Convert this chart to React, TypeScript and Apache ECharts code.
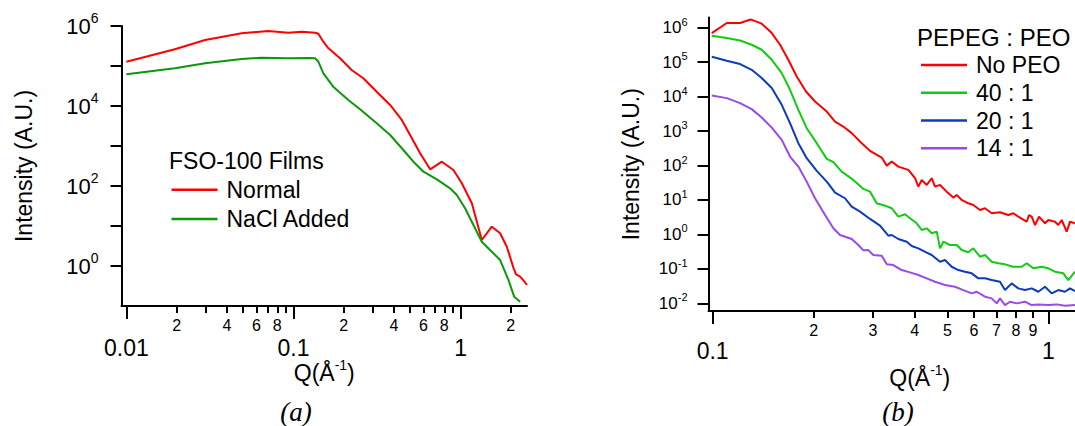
import React, { useEffect, useRef } from 'react';
import * as echarts from 'echarts';

const FONT = '"Liberation Sans", Arial, Helvetica, sans-serif';

// ---------- Panel (a): FSO-100 Films ----------
const NORMAL_Q = [0.01, 0.0195, 0.0296, 0.049, 0.0707, 0.0932, 0.112, 0.135, 0.141, 0.151, 0.162, 0.19, 0.223, 0.262, 0.315, 0.379, 0.445, 0.499, 0.573, 0.658, 0.773, 0.907, 1.018, 1.169, 1.341, 1.539, 1.726, 1.893, 2.074, 2.15, 2.275, 2.4, 2.5];
const NORMAL_I = [1.28e5, 2.62e5, 4.47e5, 6.57e5, 7.5e5, 6.8e5, 7.2e5, 6.8e5, 6.4e5, 4.05e5, 2.77e5, 1.56e5, 7.94e4, 4.93e4, 2.28e4, 1.06e4, 4.47e3, 1.88e3, 657, 261, 405, 251, 117, 36.9, 4.47, 9.6, 6.57, 3.04, 0.9, 0.62, 0.54, 0.42, 0.335];
const NACL_Q = [0.01, 0.0195, 0.0296, 0.049, 0.0643, 0.0932, 0.126, 0.1347, 0.141, 0.151, 0.173, 0.213, 0.2505, 0.315, 0.379, 0.455, 0.522, 0.6, 0.722, 0.866, 0.95, 1.065, 1.195, 1.341, 1.539, 1.726, 1.936, 2.094, 2.275];
const NACL_I = [6.2e4, 8.76e4, 1.17e5, 1.5e5, 1.61e5, 1.56e5, 1.58e5, 1.56e5, 1.28e5, 6.57e4, 3.04e4, 1.41e4, 8.27e3, 3.69e3, 1.88e3, 794, 405, 228, 147, 87.6, 59.6, 27.7, 10.6, 4.05, 2.28, 1.41, 0.447, 0.171, 0.128];

const A_X_MAJOR = [0.01, 0.1, 1];
const A_X_MAJOR_LABELS = ['0.01', '0.1', '1'];
const A_X_MINOR = [0.02, 0.03, 0.04, 0.05, 0.06, 0.07, 0.08, 0.09, 0.2, 0.3, 0.4, 0.5, 0.6, 0.7, 0.8, 0.9, 2];
const A_X_MINOR_LABELED = [0.02, 0.04, 0.06, 0.08, 0.2, 0.4, 0.6, 0.8, 2];
const A_Y_TICKS = [1, 10, 100, 1e3, 1e4, 1e5, 1e6];
const A_Y_LABELED = [1, 100, 1e4, 1e6];

// ---------- Panel (b): PEPEG : PEO ----------
const NOPEO_Q = [0.0994, 0.1102, 0.1207, 0.1298, 0.14, 0.15, 0.1588, 0.168, 0.178, 0.1897, 0.2018, 0.2187, 0.2315, 0.245, 0.2595, 0.278, 0.2943, 0.3188, 0.33, 0.3415, 0.3573, 0.3827, 0.4006, 0.4098, 0.4194, 0.4341, 0.4492, 0.4595, 0.4755, 0.4978, 0.5209, 0.5332, 0.5518, 0.5773, 0.5974, 0.6255, 0.6473, 0.6777, 0.7175, 0.7595, 0.786, 0.8134, 0.8616, 0.8754, 0.8917, 0.9127, 0.9376, 0.977, 0.9993, 1.0463, 1.0703, 1.0955, 1.1337, 1.1597, 1.2001];
const NOPEO_I = [7.0e5, 1.37e6, 1.37e6, 1.74e6, 1.31e6, 7.0e5, 3.2e5, 1.17e5, 3.84e4, 1.41e4, 7.2e3, 3.69e3, 1.89e3, 1.35e3, 869, 445, 266, 170, 99.3, 130, 92.9, 74.5, 42.7, 24.4, 38.1, 27.3, 42.7, 24.4, 27.3, 17.4, 11.7, 14.0, 10, 8.0, 7.16, 5.12, 5.74, 4.1, 4.39, 3.66, 4.1, 3.27, 2.34, 3.66, 3.27, 1.87, 3.27, 2.1, 2.62, 2.34, 1.87, 2.62, 1.2, 2.34, 2.1];
const R40_Q = [0.0994, 0.1102, 0.1207, 0.1307, 0.14, 0.15, 0.1606, 0.17, 0.18, 0.1906, 0.2042, 0.2187, 0.2288, 0.2423, 0.2624, 0.2811, 0.2943, 0.3081, 0.3262, 0.3415, 0.3573, 0.3741, 0.3871, 0.4053, 0.4194, 0.4341, 0.4492, 0.4649, 0.4755, 0.4864, 0.5092, 0.5332, 0.5518, 0.5773, 0.5974, 0.6255, 0.6473, 0.6777, 0.7092, 0.7425, 0.786, 0.8325, 0.8616, 0.9015, 0.9551, 0.9993, 1.0463, 1.1076, 1.1462, 1.2001];
const R40_I = [5.85e5, 5.02e5, 4.27e5, 3.2e5, 2.29e5, 1.17e5, 4.82e4, 1.58e4, 4.13e3, 1.21e3, 445, 156, 125, 66.5, 38.1, 20.9, 17.4, 8.0, 6.82, 5.74, 3.27, 3.84, 2.94, 2.1, 1.34, 1.5, 1.08, 1.2, 0.394, 0.614, 0.492, 0.492, 0.352, 0.302, 0.394, 0.225, 0.252, 0.161, 0.145, 0.135, 0.115, 0.115, 0.145, 0.1035, 0.115, 0.1035, 0.0824, 0.074, 0.0472, 0.0824];
const R20_Q = [0.0994, 0.1102, 0.1207, 0.1307, 0.14, 0.15, 0.1606, 0.17, 0.18, 0.1906, 0.2042, 0.2187, 0.2315, 0.2479, 0.2595, 0.2748, 0.2943, 0.3151, 0.3336, 0.3415, 0.3573, 0.3785, 0.3917, 0.4098, 0.4341, 0.4492, 0.4755, 0.4921, 0.5152, 0.5391, 0.5644, 0.5909, 0.6183, 0.6473, 0.6777, 0.7175, 0.7425, 0.7774, 0.8134, 0.8516, 0.8917, 0.9332, 0.977, 1.0229, 1.0703, 1.1206, 1.1597, 1.2001];
const R20_I = [1.44e5, 1.1e5, 8.81e4, 6.01e4, 3.45e4, 1.77e4, 5.78e3, 1.7e3, 445, 163, 69.7, 34.0, 16.3, 11.2, 6.38, 4.57, 2.81, 1.79, 0.916, 0.961, 0.735, 0.614, 0.46, 0.394, 0.294, 0.252, 0.161, 0.18, 0.115, 0.0923, 0.0824, 0.074, 0.053, 0.053, 0.0472, 0.0422, 0.0242, 0.0379, 0.0271, 0.0242, 0.0271, 0.0216, 0.0302, 0.0194, 0.0242, 0.0216, 0.0271, 0.0226];
const R14_Q = [0.0994, 0.1102, 0.1207, 0.1307, 0.14, 0.15, 0.1606, 0.17, 0.18, 0.1906, 0.2018, 0.2162, 0.2288, 0.2395, 0.2595, 0.2716, 0.2811, 0.2909, 0.301, 0.3188, 0.33, 0.3452, 0.3657, 0.3871, 0.4098, 0.4341, 0.4595, 0.4921, 0.527, 0.5579, 0.5909, 0.6116, 0.6473, 0.6777, 0.7014, 0.7175, 0.7425, 0.7684, 0.8045, 0.8516, 0.8917, 0.9332, 0.9993, 1.0586, 1.1206, 1.2001];
const R14_I = [1.08e4, 9.04e3, 6.47e3, 4.33e3, 2.47e3, 1.26e3, 555, 182, 92.9, 34.0, 11.2, 3.66, 1.5, 0.961, 0.735, 0.492, 0.345, 0.35, 0.252, 0.24, 0.135, 0.129, 0.0923, 0.079, 0.0661, 0.053, 0.0422, 0.0338, 0.0302, 0.0242, 0.0194, 0.0216, 0.0155, 0.0139, 0.00993, 0.0139, 0.00887, 0.0111, 0.00993, 0.0111, 0.00887, 0.00929, 0.00887, 0.00929, 0.00845, 0.00887];

const B_X_MAJOR = [0.1, 1];
const B_X_MAJOR_LABELS = ['0.1', '1'];
const B_X_MINOR = [0.2, 0.3, 0.4, 0.5, 0.6, 0.7, 0.8, 0.9];
const B_Y_TICKS = [1e-2, 1e-1, 1, 10, 100, 1e3, 1e4, 1e5, 1e6];

const LEGEND_A = ['Normal', 'NaCl Added'];
const LEGEND_B = ['No PEO', '40 : 1', '20 : 1', '14 : 1'];

const zip = (xs: number[], ys: number[]) => xs.map((x, i) => [x, ys[i]]);

const digitLabel = (v: number) => {
  const p = Math.pow(10, Math.floor(Math.log10(v) + 1e-9));
  return String(Math.round(v / p));
};
const majorLabel = (ticks: number[], labels: string[]) => (v: number) => {
  let best = 0;
  ticks.forEach((t, i) => {
    if (Math.abs(Math.log10(t) - Math.log10(v)) < Math.abs(Math.log10(ticks[best]) - Math.log10(v))) best = i;
  });
  return labels[best];
};
const powLabel = (v: number) => `{b|10}{s|${Math.round(Math.log10(v))}}`;

const AXIS_LINE = { show: true, lineStyle: { color: '#000', width: 2 } };

function xAxes(grid: number, min: number, max: number, major: number[], majorLabels: string[], minor: number[], minorLabeled: number[], majorMargin: number, nameGap: number, namePad: number) {
  return [
    {
      type: 'log', logBase: 10, gridIndex: grid, min, max, position: 'bottom',
      axisLine: AXIS_LINE,
      axisTick: { show: true, inside: false, length: 13, customValues: major, lineStyle: { color: '#000', width: 2 } },
      axisLabel: { show: true, customValues: major, formatter: majorLabel(major, majorLabels), fontSize: 23, color: '#000', fontFamily: FONT, margin: majorMargin },
      minorTick: { show: false }, splitLine: { show: false }, minorSplitLine: { show: false },
      name: '{b|Q(Å}{s|-1}{b|)}', nameLocation: 'middle', nameGap, nameMoveOverlap: false,
      nameTextStyle: {
        color: '#000', fontFamily: FONT, fontSize: 23, padding: [0, 0, 0, namePad],
        rich: {
          b: { fontSize: 23, lineHeight: 23, verticalAlign: 'bottom', fontFamily: FONT, color: '#000' },
          s: { fontSize: 14, lineHeight: 14, verticalAlign: 'bottom', padding: [0, 0, 12, 0], fontFamily: FONT, color: '#000' },
        },
      },
    },
    {
      type: 'log', logBase: 10, gridIndex: grid, min, max, position: 'bottom',
      axisLine: { show: false },
      axisTick: { show: true, inside: false, length: 7, customValues: minor, lineStyle: { color: '#000', width: 2 } },
      axisLabel: { show: true, customValues: minorLabeled, formatter: digitLabel, fontSize: 16, color: '#000', fontFamily: FONT, margin: 11 },
      minorTick: { show: false }, splitLine: { show: false }, minorSplitLine: { show: false },
    },
  ];
}

function yAxis(grid: number, min: number, max: number, ticks: number[], labeled: number[], bSize: number, sSize: number, margin: number, nameGap: number) {
  return {
    type: 'log', logBase: 10, gridIndex: grid, min, max, position: 'left',
    axisLine: AXIS_LINE,
    axisTick: { show: true, inside: false, length: 11, customValues: ticks, lineStyle: { color: '#000', width: 2 } },
    axisLabel: {
      show: true, customValues: labeled, formatter: powLabel, margin, color: '#000', fontFamily: FONT,
      rich: {
        b: { fontSize: bSize, lineHeight: bSize, verticalAlign: 'bottom', fontFamily: FONT, color: '#000' },
        s: { fontSize: sSize, lineHeight: sSize, verticalAlign: 'bottom', padding: [0, 0, Math.round(bSize * 0.55), 0], fontFamily: FONT, color: '#000' },
      },
    },
    minorTick: { show: false }, splitLine: { show: false }, minorSplitLine: { show: false },
    name: 'Intensity (A.U.)', nameLocation: 'middle', nameGap, nameMoveOverlap: false,
    nameTextStyle: { color: '#000', fontFamily: FONT, fontSize: 23 },
  };
}

const line = (name: string, data: number[][], color: string, xi: number, yi: number) => ({
  name, type: 'line', data, xAxisIndex: xi, yAxisIndex: yi,
  showSymbol: false, symbol: 'none', smooth: false,
  lineStyle: { color, width: 2 }, itemStyle: { color },
  emphasis: { disabled: true },
});

export default function App() {
  const ref = useRef<HTMLDivElement>(null);
  useEffect(() => {
    if (!ref.current) return;
    const chart = echarts.init(ref.current, null, { renderer: 'svg' });
    const legendText = (lh: number) => ({ color: '#000', fontFamily: FONT, fontSize: 23, lineHeight: lh, padding: [0, 0, 0, 4] });
    chart.setOption({
      animation: false,
      backgroundColor: '#fff',
      grid: [
        { left: 121.5, top: 26, width: 405.5, height: 280, outerBoundsMode: 'none', containLabel: false },
        { left: 708.5, top: 17.5, width: 366.5, height: 293.5, outerBoundsMode: 'none', containLabel: false },
      ],
      xAxis: [
        ...xAxes(0, 0.00935, 2.5, A_X_MAJOR, A_X_MAJOR_LABELS, A_X_MINOR, A_X_MINOR_LABELED, 30, 55, 0),
        ...xAxes(1, 0.0972, 1.2, B_X_MAJOR, B_X_MAJOR_LABELS, B_X_MINOR, B_X_MINOR, 28, 55, 56),
      ],
      yAxis: [
        yAxis(0, 0.1, 1e6, A_Y_TICKS, A_Y_LABELED, 22, 14, 23, 86),
        yAxis(1, 0.00597, 1.98e6, B_Y_TICKS, B_Y_TICKS, 17, 11, 21, 66),
      ],
      legend: [
        {
          data: LEGEND_A, orient: 'vertical', left: 171.5, top: 175, padding: 0, itemGap: 0,
          itemWidth: 46, itemHeight: 2.5, icon: 'rect', selectedMode: false, textStyle: legendText(29.3),
        },
        {
          data: LEGEND_B, orient: 'vertical', left: 921, top: 51, padding: 0, itemGap: 0,
          itemWidth: 46, itemHeight: 2.5, icon: 'rect', selectedMode: false, textStyle: legendText(27.8),
        },
      ],
      graphic: [
        { type: 'text', x: 169, y: 161, style: { text: 'FSO-100 Films', font: `23px ${FONT}`, fill: '#000', textAlign: 'left', textVerticalAlign: 'middle' } },
        { type: 'text', x: 917, y: 37, style: { text: 'PEPEG : PEO', font: `24px ${FONT}`, fill: '#000', textAlign: 'left', textVerticalAlign: 'middle' } },
        { type: 'text', x: 296, y: 412, style: { text: '(a)', font: 'italic 27px "Liberation Serif", "Times New Roman", serif', fill: '#000', textAlign: 'center', textVerticalAlign: 'middle' } },
        { type: 'text', x: 898, y: 412, style: { text: '(b)', font: 'italic 27px "Liberation Serif", "Times New Roman", serif', fill: '#000', textAlign: 'center', textVerticalAlign: 'middle' } },
      ],
      series: [
        line('Normal', zip(NORMAL_Q, NORMAL_I), '#ff0000', 0, 0),
        line('NaCl Added', zip(NACL_Q, NACL_I), '#0b990b', 0, 0),
        line('No PEO', zip(NOPEO_Q, NOPEO_I), '#ff0000', 2, 1),
        line('40 : 1', zip(R40_Q, R40_I), '#11cc11', 2, 1),
        line('20 : 1', zip(R20_Q, R20_I), '#0b3bbf', 2, 1),
        line('14 : 1', zip(R14_Q, R14_I), '#9b4ae8', 2, 1),
      ],
    });
    return () => chart.dispose();
  }, []);
  return <div ref={ref} style={{ position: 'fixed', left: 0, top: 0, width: 1075, height: 426, background: '#fff' }} />;
}
